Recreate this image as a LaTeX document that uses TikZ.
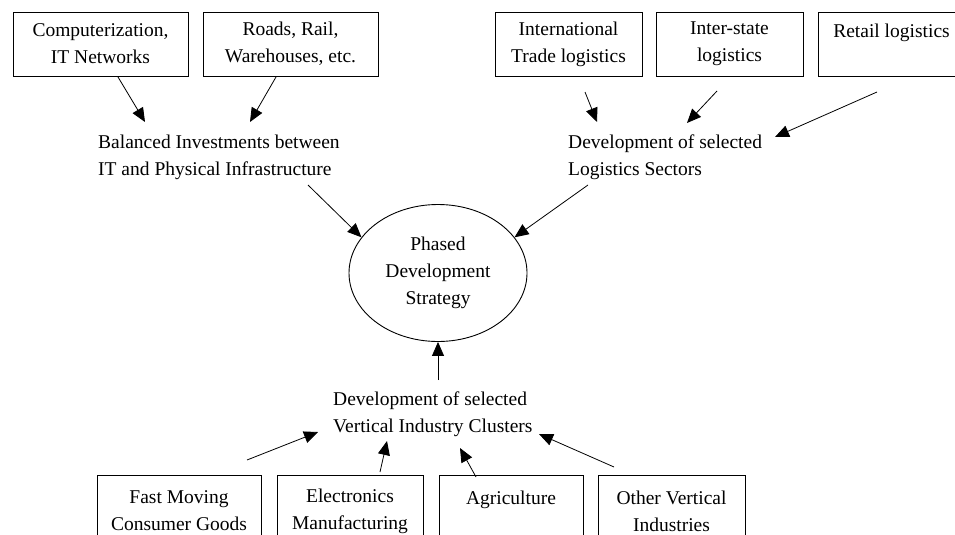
\documentclass[tikz,border=0pt]{standalone}
\usepackage{fontspec}
\setmainfont{Liberation Serif}
\usetikzlibrary{arrows.meta,shapes.geometric}
\begin{document}
\begin{tikzpicture}[x=1pt,y=-1pt,
  every node/.style={font=\fontsize{19.5}{27}\selectfont, inner sep=0pt},
  box/.style={draw, line width=0.9pt, align=center},
  topbox/.style={box, minimum width=175pt, minimum height=64pt},
  logbox/.style={box, minimum width=147pt, minimum height=64pt},
  botbox/.style={box, minimum height=72pt},
  lbl/.style={align=left, anchor=north west},
  arr/.style={-{Triangle[length=14pt,width=12pt]}, line width=0.8pt}]
\useasboundingbox (0,0) rectangle (955,535);
\clip (0,0) rectangle (955,535);
\fill[white] (0,0) rectangle (955,535);

% infrastructure inputs
\node[topbox] (comp) at (100.5,44) {Computerization,\\IT Networks};
\node[topbox] (roads) at (290.5,44) {Roads, Rail,\\Warehouses, etc.};

% logistics sectors
\node[logbox] (intl) at (568.5,44) {International\\Trade logistics};
\node[logbox] (inter) at (729.5,44) {Inter-state\\logistics};
\node[logbox] (retail) at (891.5,44) {Retail logistics\\~};

% intermediate goals
\node[lbl] (bal) at (98,135) {Balanced Investments between\\IT and Physical Infrastructure};
\node[lbl] (dlog) at (568,135) {Development of selected\\Logistics Sectors};
\node[lbl] (dvert) at (333,392) {Development of selected\\Vertical Industry Clusters};

% central strategy
\node[draw, ellipse, line width=0.9pt, minimum width=178pt, minimum height=137pt, align=center] (strat) at (438,273) {Phased\\Development\\Strategy};

% vertical industries
\node[botbox, minimum width=164pt] (fmcg) at (179,511) {Fast Moving\\Consumer Goods};
\node[botbox, minimum width=146pt] (elec) at (350,511) {Electronics\\Manufacturing};
\node[botbox, minimum width=144pt] (agri) at (511,511) {Agriculture\\~};
\node[botbox, minimum width=147pt] (other) at (671.5,511) {Other Vertical\\Industries};

% connector ends
\coordinate (compS) at (118,77);   \coordinate (balL) at (145,122);
\coordinate (roadsS) at (276,77);  \coordinate (balR) at (250,122);
\coordinate (intlS) at (585,92);   \coordinate (dlogL) at (597,122);
\coordinate (interS) at (717,91);  \coordinate (dlogM) at (687,123);
\coordinate (retailS) at (877,92); \coordinate (dlogR) at (775,137);
\coordinate (balS) at (308,185);
\coordinate (dlogS) at (588,185);
\coordinate (dvertN) at (438,380);
\coordinate (fmcgN) at (247,460);  \coordinate (dvertL) at (318,432);
\coordinate (elecN) at (380,472);  \coordinate (dvertB1) at (387,441);
\coordinate (agriN) at (476,477);  \coordinate (dvertB2) at (460,448);
\coordinate (otherN) at (614,467); \coordinate (dvertR) at (539,434);

\draw[arr] (compS) -- (balL);
\draw[arr] (roadsS) -- (balR);
\draw[arr] (intlS) -- (dlogL);
\draw[arr] (interS) -- (dlogM);
\draw[arr] (retailS) -- (dlogR);
\draw[arr] (balS) -- (strat.155);
\draw[arr] (dlogS) -- (strat.25);
\draw[arr] (dvertN) -- (strat.south);
\draw[arr] (fmcgN) -- (dvertL);
\draw[arr] (elecN) -- (dvertB1);
\draw[arr] (agriN) -- (dvertB2);
\draw[arr] (otherN) -- (dvertR);
\end{tikzpicture}
\end{document}
